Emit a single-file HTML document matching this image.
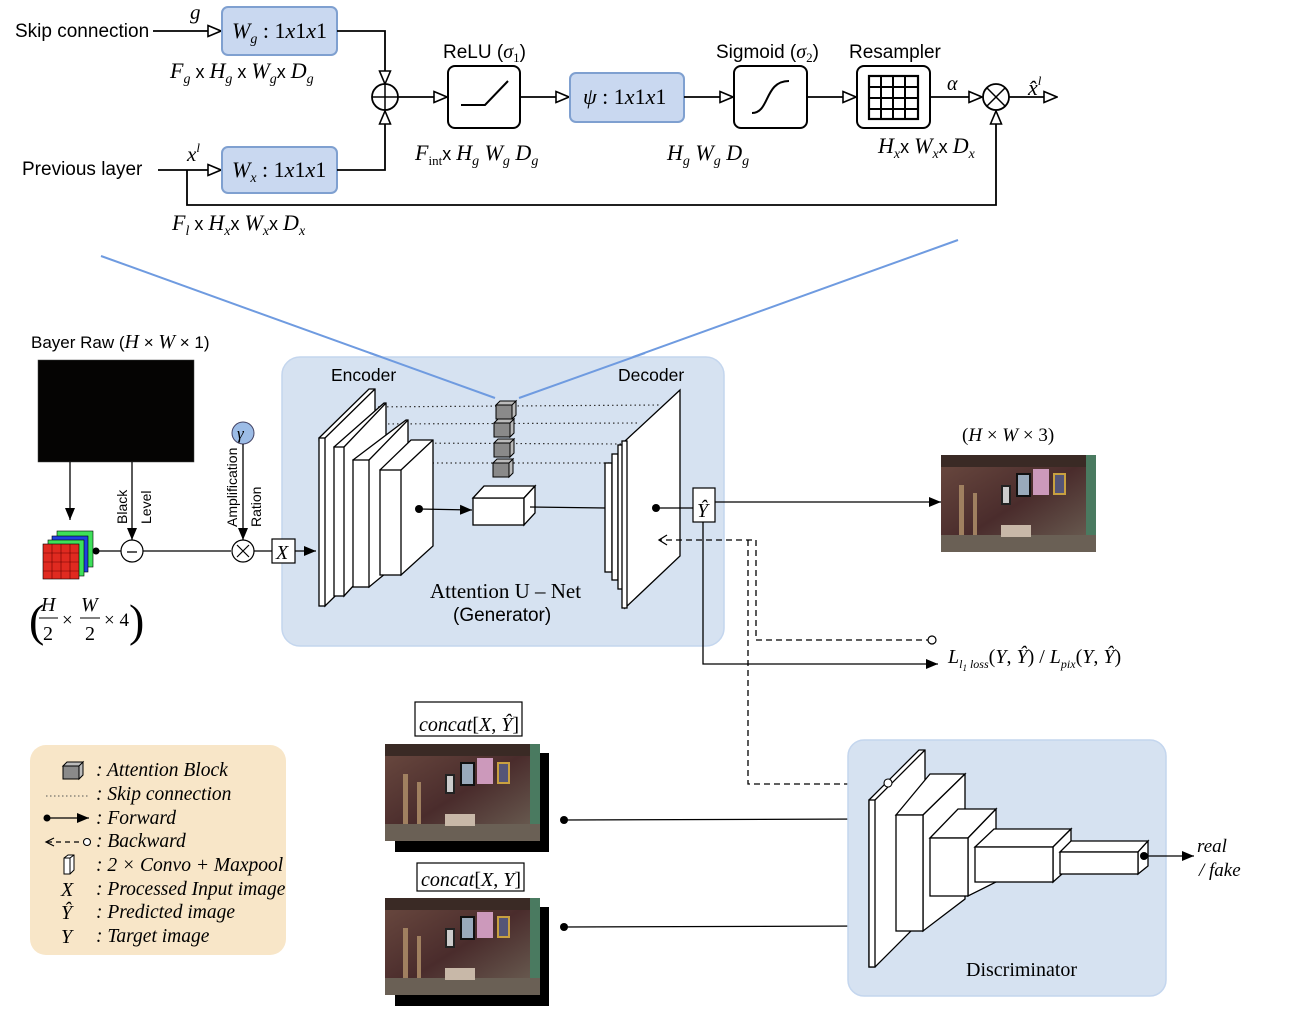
<!DOCTYPE html>
<html><head><meta charset="utf-8"><style>
html,body{margin:0;padding:0;background:#fff;}
svg{display:block;}
.s{font-family:"Liberation Sans",sans-serif;}
.r{font-family:"Liberation Serif",serif;}
.i{font-family:"Liberation Serif",serif;font-style:italic;}
</style></head><body>
<svg width="1291" height="1014" viewBox="0 0 1291 1014" xmlns="http://www.w3.org/2000/svg">
<defs>
<marker id="ot" markerWidth="15" markerHeight="13" refX="14" refY="6.5" orient="auto" markerUnits="userSpaceOnUse"><path d="M1,1 L14,6.5 L1,12 Z" fill="#fff" stroke="#000" stroke-width="1.6"/></marker>
<marker id="ft" markerWidth="13" markerHeight="11" refX="12" refY="5.5" orient="auto" markerUnits="userSpaceOnUse"><path d="M0,0.5 L12,5.5 L0,10.5 Z" fill="#000"/></marker>
<linearGradient id="pg" x1="0" y1="0" x2="1" y2="1"><stop offset="0" stop-color="#6b4a40"/><stop offset="0.5" stop-color="#4a2c2c"/><stop offset="1" stop-color="#6f6558"/></linearGradient>
<symbol id="photo" viewBox="0 0 155 97">
<rect width="155" height="97" fill="url(#pg)"/>
<rect x="0" y="0" width="155" height="12" fill="#3a2a25"/>
<rect x="18" y="30" width="5" height="55" fill="#a08060"/>
<rect x="32" y="38" width="4" height="45" fill="#a08060"/>
<rect x="60" y="30" width="10" height="20" fill="#222"/><rect x="62" y="32" width="6" height="16" fill="#ccc"/>
<rect x="75" y="18" width="15" height="24" fill="#111"/><rect x="77" y="20" width="11" height="20" fill="#9ab"/>
<rect x="92" y="14" width="16" height="26" fill="#c9b"/>
<rect x="112" y="18" width="13" height="22" fill="#c8a040"/><rect x="114" y="20" width="9" height="18" fill="#557"/>
<rect x="145" y="0" width="10" height="97" fill="#4a7a60"/>
<rect x="0" y="80" width="155" height="17" fill="#6a6055"/>
<rect x="60" y="70" width="30" height="12" fill="#c8b8a8"/>
</symbol>
</defs>

<!-- ===== TOP ATTENTION BLOCK ===== -->
<text x="15" y="37" class="s" font-size="19">Skip connection</text>
<line x1="153" y1="31" x2="221" y2="31" stroke="#000" stroke-width="1.8" marker-end="url(#ot)"/>
<text x="190" y="19" class="i" font-size="21">g</text>
<rect x="222" y="7" width="115" height="48" rx="6" fill="#c9d8f0" stroke="#7fa0d0" stroke-width="2"/>
<text x="232" y="38" class="r" font-size="22"><tspan font-style="italic">W</tspan><tspan font-style="italic" font-size="14" dy="5">g</tspan><tspan dy="-5"> : 1</tspan><tspan font-style="italic">x</tspan>1<tspan font-style="italic">x</tspan>1</text>
<text x="170" y="78" class="r" font-size="22"><tspan font-style="italic">F</tspan><tspan font-style="italic" font-size="14" dy="5">g</tspan><tspan dy="-5" class="s" font-size="18"> x </tspan><tspan font-style="italic">H</tspan><tspan font-style="italic" font-size="14" dy="5">g</tspan><tspan dy="-5" class="s" font-size="18"> x </tspan><tspan font-style="italic">W</tspan><tspan font-style="italic" font-size="14" dy="5">g</tspan><tspan dy="-5" class="s" font-size="18">x </tspan><tspan font-style="italic">D</tspan><tspan font-style="italic" font-size="14" dy="5">g</tspan></text>
<polyline points="337,31 385,31 385,84" fill="none" stroke="#000" stroke-width="1.8" marker-end="url(#ot)"/>
<circle cx="385" cy="97" r="13" fill="#fff" stroke="#000" stroke-width="1.8"/>
<line x1="372" y1="97" x2="398" y2="97" stroke="#000" stroke-width="1.5"/><line x1="385" y1="84" x2="385" y2="110" stroke="#000" stroke-width="1.5"/>
<text x="22" y="175" class="s" font-size="19">Previous layer</text>
<line x1="158" y1="170" x2="221" y2="170" stroke="#000" stroke-width="1.8" marker-end="url(#ot)"/>
<text x="187" y="161" class="i" font-size="21">x<tspan font-size="13" dy="-9">l</tspan></text>
<rect x="222" y="147" width="115" height="46" rx="6" fill="#c9d8f0" stroke="#7fa0d0" stroke-width="2"/>
<text x="232" y="177" class="r" font-size="22"><tspan font-style="italic">W</tspan><tspan font-style="italic" font-size="14" dy="5">x</tspan><tspan dy="-5"> : 1</tspan><tspan font-style="italic">x</tspan>1<tspan font-style="italic">x</tspan>1</text>
<polyline points="337,170 385,170 385,111" fill="none" stroke="#000" stroke-width="1.8" marker-end="url(#ot)"/>
<polyline points="187,170 187,205 996,205 996,111" fill="none" stroke="#000" stroke-width="1.8" marker-end="url(#ot)"/>
<text x="172" y="230" class="r" font-size="22"><tspan font-style="italic">F</tspan><tspan font-style="italic" font-size="14" dy="5">l</tspan><tspan dy="-5" class="s" font-size="18"> x </tspan><tspan font-style="italic">H</tspan><tspan font-style="italic" font-size="14" dy="5">x</tspan><tspan dy="-5" class="s" font-size="18">x </tspan><tspan font-style="italic">W</tspan><tspan font-style="italic" font-size="14" dy="5">x</tspan><tspan dy="-5" class="s" font-size="18">x </tspan><tspan font-style="italic">D</tspan><tspan font-style="italic" font-size="14" dy="5">x</tspan></text>

<line x1="398" y1="97" x2="447" y2="97" stroke="#000" stroke-width="1.8" marker-end="url(#ot)"/>
<rect x="448" y="66" width="72" height="62" rx="7" fill="#fff" stroke="#000" stroke-width="2"/>
<polyline points="461,105 485,105 508,81" fill="none" stroke="#000" stroke-width="2"/>
<text x="443" y="58" class="s" font-size="19">ReLU (<tspan class="i" font-size="20">σ</tspan><tspan class="r" font-size="13" dy="4">1</tspan><tspan dy="-4">)</tspan></text>
<text x="415" y="160" class="r" font-size="22"><tspan font-style="italic">F</tspan><tspan font-size="13" dy="5">int</tspan><tspan dy="-5" class="s" font-size="18">x </tspan><tspan font-style="italic">H</tspan><tspan font-style="italic" font-size="14" dy="5">g</tspan><tspan font-style="italic" dy="-5"> W</tspan><tspan font-style="italic" font-size="14" dy="5">g</tspan><tspan font-style="italic" dy="-5"> D</tspan><tspan font-style="italic" font-size="14" dy="5">g</tspan></text>
<line x1="520" y1="97" x2="569" y2="97" stroke="#000" stroke-width="1.8" marker-end="url(#ot)"/>
<rect x="570" y="73" width="114" height="49" rx="6" fill="#c9d8f0" stroke="#7fa0d0" stroke-width="2"/>
<text x="583" y="104" class="r" font-size="22"><tspan font-style="italic">ψ</tspan> : 1<tspan font-style="italic">x</tspan>1<tspan font-style="italic">x</tspan>1</text>
<line x1="684" y1="97" x2="733" y2="97" stroke="#000" stroke-width="1.8" marker-end="url(#ot)"/>
<rect x="734" y="66" width="73" height="62" rx="7" fill="#fff" stroke="#000" stroke-width="2"/>
<path d="M752,113 C770,113 764,81 789,81" fill="none" stroke="#000" stroke-width="2"/>
<text x="716" y="58" class="s" font-size="19">Sigmoid (<tspan class="i" font-size="20">σ</tspan><tspan class="r" font-size="13" dy="4">2</tspan><tspan dy="-4">)</tspan></text>
<text x="667" y="160" class="i" font-size="22">H<tspan font-size="14" dy="5">g</tspan><tspan dy="-5"> W</tspan><tspan font-size="14" dy="5">g</tspan><tspan dy="-5"> D</tspan><tspan font-size="14" dy="5">g</tspan></text>
<line x1="807" y1="97" x2="856" y2="97" stroke="#000" stroke-width="1.8" marker-end="url(#ot)"/>
<rect x="857" y="66" width="73" height="62" rx="7" fill="#fff" stroke="#000" stroke-width="2"/>
<rect x="869" y="76" width="49" height="43" fill="#fff" stroke="#000" stroke-width="2.2"/>
<path d="M881,76V119M893,76V119M905,76V119M869,87H918M869,98H918M869,109H918" stroke="#000" stroke-width="2"/>
<text x="849" y="58" class="s" font-size="19">Resampler</text>
<text x="878" y="153" class="i" font-size="22">H<tspan font-size="14" dy="5">x</tspan><tspan dy="-5" class="s" font-style="normal" font-size="18">x </tspan>W<tspan font-size="14" dy="5">x</tspan><tspan dy="-5" class="s" font-style="normal" font-size="18">x </tspan>D<tspan font-size="14" dy="5">x</tspan></text>
<line x1="930" y1="97" x2="982" y2="97" stroke="#000" stroke-width="1.8" marker-end="url(#ot)"/>
<text x="947" y="90" class="i" font-size="20">α</text>
<circle cx="996" cy="97" r="13" fill="#fff" stroke="#000" stroke-width="1.8"/>
<path d="M987,88L1005,106M1005,88L987,106" stroke="#000" stroke-width="1.5"/>
<line x1="1009" y1="97" x2="1057" y2="97" stroke="#000" stroke-width="1.8" marker-end="url(#ot)"/>
<text x="1028" y="95" class="i" font-size="22">x̂<tspan font-size="13" dy="-10">l</tspan></text>

<!-- blue zoom lines -->
<line x1="101" y1="256" x2="495" y2="398" stroke="#6f9be0" stroke-width="2"/>
<line x1="958" y1="240" x2="519" y2="398" stroke="#6f9be0" stroke-width="2"/>

<!-- ===== GENERATOR PANEL ===== -->
<rect x="282" y="357" width="442" height="289" rx="18" fill="#d6e2f1" stroke="#c4d6ee" stroke-width="1.5"/>
<text x="331" y="381" class="s" font-size="17.5">Encoder</text>
<text x="618" y="381" class="s" font-size="17.5">Decoder</text>
<line x1="370" y1="353" x2="495" y2="398" stroke="#6f9be0" stroke-width="2"/>
<line x1="519" y1="398" x2="645" y2="353" stroke="#6f9be0" stroke-width="2"/>
<g stroke="#333" stroke-width="1.2" stroke-dasharray="1.5,3">
<line x1="360" y1="407" x2="660" y2="405"/>
<line x1="370" y1="424" x2="640" y2="423"/>
<line x1="390" y1="443" x2="625" y2="444"/>
<line x1="410" y1="463" x2="612" y2="463"/>
</g>
<g fill="#fff" stroke="#000" stroke-width="1.3">
<path d="M319,438 L369,389 L375,389 L375,557 L325,606 Z"/><rect x="319" y="438" width="6" height="168"/><path d="M325,438 L375,389"/>
<path d="M334,447 L384,403 L386,403 L386,550 L344,596 Z"/><rect x="334" y="447" width="10" height="149"/><path d="M344,447 L386,403"/>
<path d="M353,460 L406,420 L408,420 L408,555 L369,587 Z"/><rect x="353" y="460" width="16" height="127"/><path d="M369,460 L408,420"/>
<path d="M380,470 L411,440 L433,440 L433,546 L401,575 Z"/><rect x="380" y="470" width="21" height="105"/><path d="M401,470 L433,440"/>
</g>
<g fill="#8a8a8a" stroke="#000" stroke-width="1">
<g transform="translate(496,402)"><rect x="0" y="3" width="16" height="14"/><path d="M0,3 L4,-1 L20,-1 L16,3 Z M16,3 L20,-1 L20,13 L16,17 Z" fill="#bbb"/></g>
<g transform="translate(494,420)"><rect x="0" y="3" width="16" height="14"/><path d="M0,3 L4,-1 L20,-1 L16,3 Z M16,3 L20,-1 L20,13 L16,17 Z" fill="#bbb"/></g>
<g transform="translate(494,440)"><rect x="0" y="3" width="16" height="14"/><path d="M0,3 L4,-1 L20,-1 L16,3 Z M16,3 L20,-1 L20,13 L16,17 Z" fill="#bbb"/></g>
<g transform="translate(493,460)"><rect x="0" y="3" width="16" height="14"/><path d="M0,3 L4,-1 L20,-1 L16,3 Z M16,3 L20,-1 L20,13 L16,17 Z" fill="#bbb"/></g>
</g>
<g fill="#fff" stroke="#000" stroke-width="1.3">
<rect x="473" y="498" width="51" height="27"/><path d="M473,498 L484,486 L535,486 L524,498 Z"/><path d="M524,498 L535,486 L535,513 L524,525 Z"/>
</g>
<circle cx="419" cy="509" r="4" fill="#000"/>
<line x1="419" y1="509" x2="472" y2="510" stroke="#000" stroke-width="1.3" marker-end="url(#ft)"/>
<line x1="530" y1="507" x2="606" y2="508" stroke="#000" stroke-width="1.3"/>
<g fill="#fff" stroke="#000" stroke-width="1.3">
<rect x="605" y="463" width="7" height="109"/>
<rect x="612" y="454" width="6" height="126"/>
<rect x="618" y="445" width="7" height="144"/>
<path d="M625,441 L680,390 L680,556 L625,608 Z"/><rect x="622" y="441" width="5" height="167"/>
</g>
<circle cx="656" cy="508" r="4" fill="#000"/>
<line x1="656" y1="508" x2="693" y2="508" stroke="#000" stroke-width="1.3"/>
<rect x="693" y="488" width="22" height="34" fill="#fff" stroke="#000" stroke-width="1.2"/>
<text x="697" y="517" class="i" font-size="20">Ŷ</text>
<line x1="715" y1="502" x2="941" y2="502" stroke="#000" stroke-width="1.3" marker-end="url(#ft)"/>
<text x="430" y="598" class="r" font-size="21">Attention U – Net</text>
<text x="453" y="621" class="s" font-size="19">(Generator)</text>
<polyline points="932,640 756,640 756,540 660,540" fill="none" stroke="#000" stroke-width="1.3" stroke-dasharray="6,4"/>
<path d="M667,535 L659,540 L667,545" fill="none" stroke="#000" stroke-width="1.3"/>
<circle cx="932" cy="640" r="4" fill="#fff" stroke="#000" stroke-width="1.2"/>
<polyline points="748,540 748,784 886,784" fill="none" stroke="#000" stroke-width="1.3" stroke-dasharray="6,4"/>
<polyline points="703,522 703,664 938,664" fill="none" stroke="#000" stroke-width="1.3" marker-end="url(#ft)"/>
<text x="948" y="663" class="i" font-size="20">L<tspan font-size="12" dy="5">l</tspan><tspan font-size="9" dy="3">1</tspan><tspan font-size="12" dy="-3"> loss</tspan><tspan dy="-5" font-style="normal">(</tspan>Y<tspan font-style="normal">, </tspan>Ŷ<tspan font-style="normal">)  /  </tspan>L<tspan font-size="12" dy="5">pix</tspan><tspan dy="-5" font-style="normal">(</tspan>Y<tspan font-style="normal">, </tspan>Ŷ<tspan font-style="normal">)</tspan></text>

<text x="962" y="441" class="r" font-size="19">(<tspan font-style="italic">H</tspan> × <tspan font-style="italic">W</tspan> × 3)</text>
<use href="#photo" x="941" y="455" width="155" height="97"/>

<!-- ===== INPUT PIPELINE ===== -->
<text x="31" y="348" class="s" font-size="17">Bayer Raw (<tspan class="i" font-size="20">H</tspan> × <tspan class="i" font-size="20">W</tspan> × 1)</text>
<rect x="38" y="360" width="156" height="102" fill="#050403" stroke="#444" stroke-width="0.5"/>
<line x1="70" y1="462" x2="70" y2="520" stroke="#000" stroke-width="1.3" marker-end="url(#ft)"/>
<line x1="132" y1="462" x2="132" y2="540" stroke="#000" stroke-width="1.3" marker-end="url(#ft)"/>
<text transform="translate(127,524) rotate(-90)" class="s" font-size="14">Black</text>
<text transform="translate(151,524) rotate(-90)" class="s" font-size="14">Level</text>
<g stroke="#000" stroke-width="0.6">
<rect x="57" y="531" width="36" height="36" fill="#3ee05a"/>
<rect x="52" y="536" width="36" height="36" fill="#2040e0"/>
<rect x="48" y="540" width="36" height="36" fill="#3ee05a"/>
<rect x="43" y="544" width="36" height="35" fill="#e02a20"/>
<path d="M52,544V579M61,544V579M70,544V579M43,553H79M43,562H79M43,571H79" stroke="#600"/>
</g>
<circle cx="96" cy="551" r="3.5" fill="#000"/>
<line x1="96" y1="551" x2="121" y2="551" stroke="#000" stroke-width="1.3"/>
<circle cx="132" cy="551" r="11" fill="#fff" stroke="#000" stroke-width="1.2"/>
<line x1="127" y1="552" x2="137" y2="552" stroke="#000" stroke-width="1.3"/>
<line x1="143" y1="551" x2="231" y2="551" stroke="#000" stroke-width="1.3"/>
<circle cx="243" cy="433" r="11" fill="#9cbce6" stroke="#446" stroke-width="1"/>
<text x="237" y="439" class="i" font-size="17">γ</text>
<line x1="243" y1="444" x2="243" y2="540" stroke="#000" stroke-width="1.3" marker-end="url(#ft)"/>
<text transform="translate(237,527) rotate(-90)" class="s" font-size="14">Amplification</text>
<text transform="translate(261,527) rotate(-90)" class="s" font-size="14">Ration</text>
<circle cx="243" cy="551" r="11" fill="#fff" stroke="#000" stroke-width="1.2"/>
<path d="M237,545L249,557M249,545L237,557" stroke="#000" stroke-width="1.2"/>
<line x1="254" y1="551" x2="272" y2="551" stroke="#000" stroke-width="1.3"/>
<rect x="272" y="539" width="23" height="24" fill="#fff" stroke="#000" stroke-width="1.2"/>
<text x="276" y="559" class="i" font-size="20">X</text>
<line x1="295" y1="551" x2="316" y2="551" stroke="#000" stroke-width="1.3" marker-end="url(#ft)"/>
<text x="29" y="636" class="r" font-size="46">(</text>
<text x="41" y="611" class="i" font-size="20">H</text><line x1="39" y1="618" x2="58" y2="618" stroke="#000" stroke-width="1"/><text x="43" y="640" class="r" font-size="20">2</text>
<text x="62" y="626" class="r" font-size="19">×</text>
<text x="81" y="611" class="i" font-size="20">W</text><line x1="80" y1="618" x2="100" y2="618" stroke="#000" stroke-width="1"/><text x="85" y="640" class="r" font-size="20">2</text>
<text x="104" y="626" class="r" font-size="19">× 4</text>
<text x="129" y="636" class="r" font-size="46">)</text>

<!-- ===== LEGEND ===== -->
<rect x="30" y="745" width="256" height="210" rx="16" fill="#f8e6c8"/>
<g fill="#8a8a8a" stroke="#000" stroke-width="1">
<rect x="63" y="766" width="16" height="13"/><path d="M63,766 L67,762 L83,762 L79,766 Z M79,766 L83,762 L83,775 L79,779 Z" fill="#bbb"/>
</g>
<line x1="46" y1="796" x2="88" y2="796" stroke="#555" stroke-width="1" stroke-dasharray="1.5,2.5"/>
<circle cx="47" cy="818" r="3.5" fill="#000"/>
<line x1="47" y1="818" x2="89" y2="818" stroke="#000" stroke-width="1.3" marker-end="url(#ft)"/>
<path d="M54,838 L46,842 L54,846" fill="none" stroke="#000" stroke-width="1.2"/>
<line x1="47" y1="842" x2="82" y2="842" stroke="#000" stroke-width="1.2" stroke-dasharray="5,4"/>
<circle cx="87" cy="842" r="3.5" fill="#fff" stroke="#000" stroke-width="1.1"/>
<path d="M64,858 L68,855 L74,855 L74,870 L70,874 L64,874 Z M64,858 L70,858 L70,874 M70,858 L74,855" fill="#fff" stroke="#000" stroke-width="1"/>
<text x="61" y="896" class="i" font-size="20">X</text>
<text x="61" y="919" class="i" font-size="20">Ŷ</text>
<text x="61" y="943" class="i" font-size="20">Y</text>
<g class="i" font-size="19.5">
<text x="96" y="776">: Attention Block</text>
<text x="96" y="800">: Skip connection</text>
<text x="96" y="824">: Forward</text>
<text x="96" y="847">: Backward</text>
<text x="96" y="871">: 2 × Convo + Maxpool</text>
<text x="96" y="895">: Processed Input image</text>
<text x="96" y="918">: Predicted image</text>
<text x="96" y="942">: Target image</text>
</g>

<!-- ===== CONCAT IMAGES ===== -->
<rect x="415" y="702" width="107" height="34" fill="#fff" stroke="#000" stroke-width="1.2"/>
<text x="419" y="731" class="i" font-size="20">concat<tspan font-style="normal">[</tspan>X<tspan font-style="normal">, </tspan>Ŷ<tspan font-style="normal">]</tspan></text>
<rect x="395" y="753" width="154" height="99" fill="#000"/>
<use href="#photo" x="385" y="743" width="155" height="99"/>
<rect x="417" y="863" width="107" height="28" fill="#fff" stroke="#000" stroke-width="1.2"/>
<text x="421" y="886" class="i" font-size="20">concat<tspan font-style="normal">[</tspan>X<tspan font-style="normal">, </tspan>Y<tspan font-style="normal">]</tspan></text>
<rect x="395" y="907" width="154" height="99" fill="#000"/>
<use href="#photo" x="385" y="897" width="155" height="99"/>
<circle cx="564" cy="820" r="4" fill="#000"/>
<line x1="564" y1="820" x2="869" y2="819" stroke="#000" stroke-width="1.3" marker-end="url(#ft)"/>
<circle cx="564" cy="927" r="4" fill="#000"/>
<line x1="564" y1="927" x2="869" y2="926" stroke="#000" stroke-width="1.3" marker-end="url(#ft)"/>

<!-- ===== DISCRIMINATOR ===== -->
<rect x="848" y="740" width="318" height="256" rx="16" fill="#d6e2f1" stroke="#c4d6ee" stroke-width="1.5"/>
<g fill="#fff" stroke="#000" stroke-width="1.3">
<path d="M869,800 L919,750 L925,750 L925,917 L875,967 L869,967 Z"/><rect x="869" y="800" width="6" height="167"/><path d="M875,800 L925,750"/>
<path d="M896,815 L930,774 L965,774 L923,815 Z"/><path d="M923,815 L965,774 L965,899 L923,931 Z"/><rect x="896" y="815" width="27" height="116"/>
<path d="M930,838 L958,809 L996,809 L968,838 Z"/><path d="M968,838 L996,809 L996,882 L968,896 Z"/><rect x="930" y="838" width="38" height="58"/>
<path d="M975,847 L994,829 L1071,829 L1053,847 Z"/><path d="M1053,847 L1071,829 L1071,866 L1053,882 Z"/><rect x="975" y="847" width="78" height="35"/>
<path d="M1060,852 L1071,841 L1148,841 L1138,852 Z"/><path d="M1138,852 L1148,841 L1148,866 L1138,874 Z"/><rect x="1060" y="852" width="78" height="22"/>
</g>
<circle cx="888" cy="783" r="4" fill="#fff" stroke="#000" stroke-width="1.1"/>
<circle cx="1144" cy="856" r="4" fill="#000"/>
<line x1="1144" y1="856" x2="1194" y2="856" stroke="#000" stroke-width="1.3" marker-end="url(#ft)"/>
<text x="1197" y="852" class="i" font-size="19">real</text>
<text x="1199" y="876" class="i" font-size="19">/ fake</text>
<text x="966" y="976" class="r" font-size="20">Discriminator</text>
</svg>
</body></html>
